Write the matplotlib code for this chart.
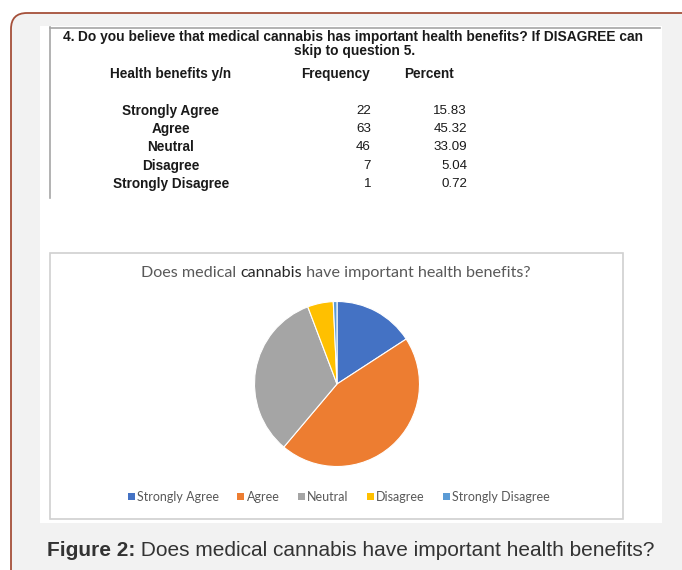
import matplotlib
matplotlib.use('Agg')
import matplotlib.pyplot as plt
from matplotlib.patches import FancyBboxPatch, Rectangle, Patch

categories = ['Strongly Agree', 'Agree', 'Neutral', 'Disagree', 'Strongly Disagree']
frequency = [22, 63, 46, 7, 1]
percent = [15.83, 45.32, 33.09, 5.04, 0.72]
colors = ['#4472C4', '#ED7D31', '#A5A5A5', '#FFC000', '#5B9BD5']

question = 'Do you believe that medical cannabis has important health benefits? If DISAGREE can'
chart_title = 'Does medical cannabis have important health benefits?'
caption = 'Does medical cannabis have important health benefits?'

narrow = ['Liberation Sans Narrow', 'Liberation Sans', 'DejaVu Sans']
arial = ['Liberation Sans', 'DejaVu Sans']
office = ['Lato', 'DejaVu Sans']

fig = plt.figure(figsize=(6.82, 5.70), dpi=100)
fig.patch.set_facecolor('white')

# overlay axes in pixel coordinates (y down)
ax = fig.add_axes([0, 0, 1, 1])
ax.set_xlim(0, 682)
ax.set_ylim(570, 0)
ax.axis('off')

renderer = fig.canvas.get_renderer()


def text_width(t):
    return t.get_window_extent(renderer).width


def put_pieces(x, y, pieces, center=False, **kw):
    # pieces: list of (string, dict of text props)
    items = [ax.text(x, y, s, va='center', ha='left', **kw, **p) for s, p in pieces]
    widths = [text_width(t) for t in items]
    if center:
        x = x - sum(widths) / 2
    for t, w in zip(items, widths):
        t.set_x(x)
        x += w


# outer frame
ax.add_patch(FancyBboxPatch((11, 13), 720, 600, boxstyle='round,pad=0,rounding_size=16',
                            facecolor='#f2f2f2', edgecolor='#a5503a', linewidth=1.3))
# white content block
ax.add_patch(Rectangle((40, 26), 622, 497, facecolor='white', edgecolor='none'))

# table box lines
ax.plot([50, 660], [27.5, 27.5], color='#a6a6a6', linewidth=1.2)
ax.plot([50, 50], [27, 198], color='#a6a6a6', linewidth=1.2)

# table text
put_pieces(353, 37, [('4. ', {'fontweight': 'bold'}), (question, {'fontweight': 'bold'})],
           center=True, family=narrow, fontsize=9.9, color='#1a1a1a')
ax.text(355, 51, 'skip to question 5.', ha='center', va='center', family=narrow,
        fontsize=9.9, fontweight='bold', color='#1a1a1a')
ax.text(171, 74, 'Health benefits y/n', ha='center', va='center', family=narrow,
        fontsize=9.8, fontweight='bold', color='#1a1a1a')
ax.text(336, 74, 'Frequency', ha='center', va='center', family=narrow,
        fontsize=9.8, fontweight='bold', color='#1a1a1a')
ax.text(429, 74, 'Percent', ha='center', va='center', family=narrow,
        fontsize=9.8, fontweight='bold', color='#1a1a1a')
row_y = [111, 129, 147, 166, 184]
for yy, cat, fr, pc in zip(row_y, categories, frequency, percent):
    ax.text(171, yy, cat, ha='center', va='center', family=narrow, fontsize=9.8,
            fontweight='bold', color='#1a1a1a')
    ax.text(371, yy, str(fr), ha='right', va='center', family=narrow, fontsize=9.6,
            color='#1a1a1a')
    ax.text(467, yy, '%.2f' % pc, ha='right', va='center', family=narrow, fontsize=9.6,
            color='#1a1a1a')

# chart box
ax.add_patch(Rectangle((50, 252.5), 573, 266.5, facecolor='white', edgecolor='#d0d0d0',
                       linewidth=1.2))
w1, w2, w3 = chart_title.partition('cannabis')
put_pieces(336, 273, [(w1, {'color': '#595959'}), (w2, {'color': '#262626'}),
                      (w3, {'color': '#595959'})], center=True, family=office, fontsize=11.6)

handles = [Patch(facecolor=c, edgecolor='none') for c in colors]
ax.legend(handles, categories, loc='center', bbox_to_anchor=(339, 497),
          bbox_transform=ax.transData, ncol=5, frameon=False,
          prop={'family': office, 'size': 9}, labelcolor='#595959',
          handlelength=0.55, handleheight=0.55, handletextpad=0.2, columnspacing=1.45)

# caption
put_pieces(47, 551, [('Figure 2:', {'fontweight': 'bold'}), (' ' + caption, {})],
           family=arial, fontsize=15, color='#333333')

# pie
cx, cy, r = 337, 384, 82.5
pax = fig.add_axes([(cx - r) / 682, 1 - (cy + r) / 570, 2 * r / 682, 2 * r / 570])
pax.pie(percent, colors=colors, startangle=90, counterclock=False,
        wedgeprops={'edgecolor': 'white', 'linewidth': 0.8})
pax.set_xlim(-1, 1)
pax.set_ylim(-1, 1)
pax.axis('off')

fig.savefig('out.png', dpi=100)
